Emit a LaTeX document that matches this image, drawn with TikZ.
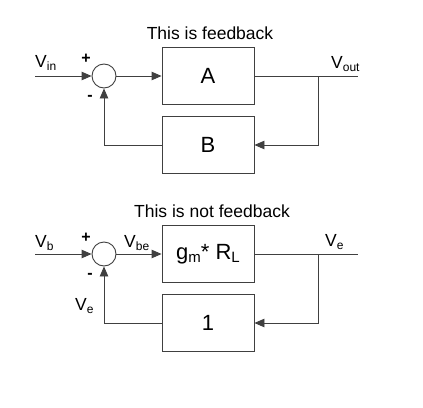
\documentclass[tikz,border=0pt]{standalone}
\usepackage{fontspec}
\setmainfont{Liberation Sans}
\usetikzlibrary{arrows.meta, positioning}
\newcommand\lowsub[2][12]{\raisebox{-3.5pt}{\fontsize{#1}{#1}\selectfont #2}}

\begin{document}
\begin{tikzpicture}[
    x=1pt, y=-1pt,
    every node/.style={font=\fontsize{17.5}{17.5}\selectfont},
    blk/.style={draw=black!75, line width=0.9pt, minimum width=92pt, minimum height=57pt, inner sep=0pt, font=\fontsize{22}{22}\selectfont},
    sum/.style={draw=black!75, line width=0.9pt, circle, minimum size=24pt, inner sep=0pt},
    lbl/.style={anchor=base west, inner sep=0pt},
    sgn/.style={inner sep=0pt, font=\fontsize{16}{16}\selectfont\bfseries},
    wire/.style={draw=black!75, line width=0.9pt},
    arr/.style={wire, -{Triangle[length=10pt,width=8.5pt]}}
]
\useasboundingbox (0,0) rectangle (423,407);
% top: feedback loop
\node (t1) at (210,33) {This is feedback};
\node[sum] (s1) at (104,76) {};
\node[blk] (a) at (208,76) {A};
\node[blk] (b) at (208,145) {B};
\coordinate (in1) at (35,76);
\coordinate (br1) at (318,76);
\coordinate (out1) at (358,76);
\draw[arr] (in1) -- (s1);
\draw[arr] (s1) -- (a);
\draw[wire] (a) -- (out1);
\draw[arr] (br1) |- (b);
\draw[arr] (b) -| (s1);
\node[lbl] (vin) at (35,67) {V\lowsub{in}};
\node[lbl] (vout) at (331,68) {V\lowsub{out}};
\node[sgn] (p1) at (86,59) {+};
\node[sgn] (m1) at (90,98) {-};
% bottom: not feedback
\node (t2) at (212,211) {This is not feedback};
\node[sum] (s2) at (104,254) {};
\node[blk] (g) at (208,254) {g\lowsub[15]{m}* R\lowsub[15]{L}};
\node[blk] (one) at (208,323) {1};
\coordinate (in2) at (35,254);
\coordinate (br2) at (318,254);
\coordinate (out2) at (358,254);
\draw[arr] (in2) -- (s2);
\draw[arr] (s2) -- (g);
\draw[wire] (g) -- (out2);
\draw[arr] (br2) |- (one);
\draw[arr] (one) -| (s2);
\node[lbl] (vb) at (35,247) {V\lowsub{b}};
\node[lbl] (vbe) at (124,247) {V\lowsub{be}};
\node[lbl] (ve1) at (325,246) {V\lowsub{e}};
\node[lbl] (ve2) at (75,310) {V\lowsub{e}};
\node[sgn] (p2) at (86,238) {+};
\node[sgn] (m2) at (90,276) {-};
\end{tikzpicture}
\end{document}
